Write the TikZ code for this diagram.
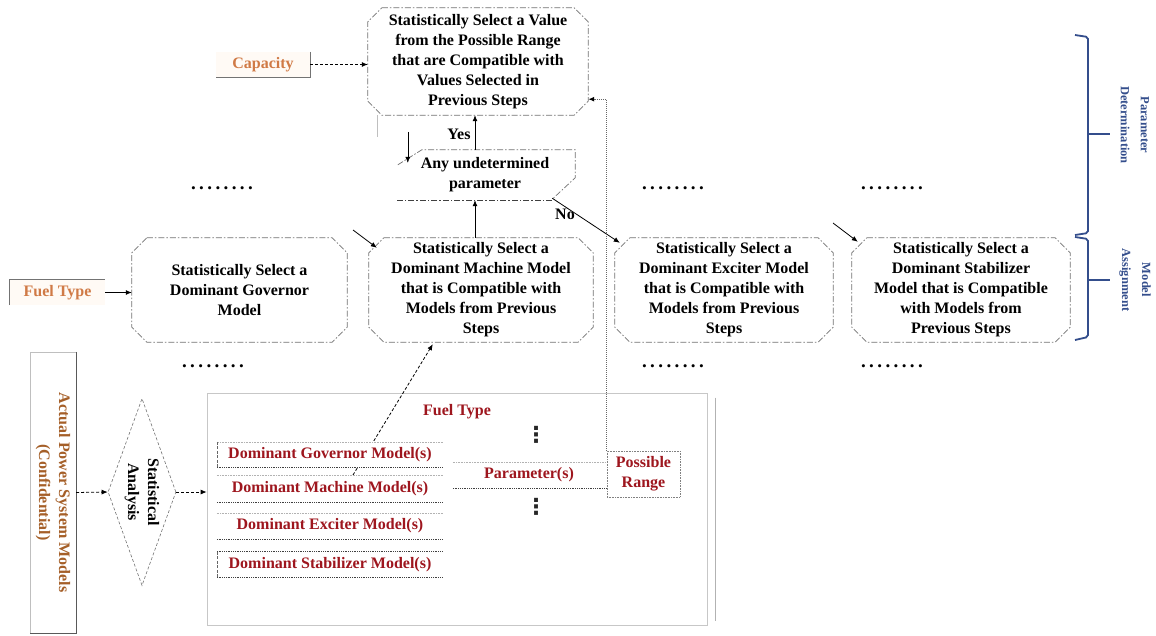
\documentclass[tikz,border=0pt]{standalone}
\usepackage{fontspec}
\setmainfont{Liberation Serif}
\newfontfamily\symfont{DejaVu Sans}
\usetikzlibrary{arrows.meta,calc,shapes.geometric}

\definecolor{orgT}{RGB}{208,122,70}
\definecolor{brnT}{RGB}{165,95,40}
\definecolor{redT}{RGB}{158,22,30}
\definecolor{bluB}{RGB}{52,78,140}

\newcommand\octoline[2]{%
 \draw[octline] ($(#1.north west)+(#2,0)$) -- ($(#1.north east)+(-#2,0)$) -- ($(#1.north east)+(0,#2)$) -- ($(#1.south east)+(0,-#2)$) -- ($(#1.south east)+(-#2,0)$) -- ($(#1.south west)+(#2,0)$) -- ($(#1.south west)+(0,-#2)$) -- ($(#1.north west)+(0,#2)$) -- cycle;}
\newcommand\dotrow{.\kern3.4pt.\kern3.4pt.\kern3.4pt.\kern3.4pt.\kern3.4pt.\kern3.4pt.\kern3.4pt.}

\tikzset{
  base/.style={font=\fontsize{16}{20}\selectfont\bfseries, align=center, inner sep=0pt},
  mbox/.style={base, minimum height=104pt},
  octline/.style={draw=black!55, line width=0.7pt, dash pattern=on 6pt off 2pt on 1.5pt off 2pt},
  arr/.style={-{Latex[length=6pt,width=5pt]}, line width=0.8pt},
  darr/.style={arr, dash pattern=on 3pt off 2pt},
  dotline/.style={draw=black!60, line width=1.3pt, dash pattern=on 1pt off 1pt},
  dotsty/.style={font=\fontsize{19}{19}\selectfont\bfseries, inner sep=0pt},
  vdotsty/.style={font=\symfont\bfseries\fontsize{22}{22}\selectfont, text=black!85, inner sep=0pt},
  rowbox/.style={base, text=redT, fill=white, minimum width=226pt},
  toprule/.style={draw=black!30, densely dotted, line width=0.6pt},
  botrule/.style={draw=black!75, densely dotted, line width=0.8pt},
  brc/.style={draw=bluB, line width=1.8pt, rounded corners=2pt},
  bluetxt/.style={font=\fontsize{12.5}{20}\selectfont\bfseries, text=bluB, align=center, inner sep=0pt, rotate=-90},
}

\begin{document}
\begin{tikzpicture}[x=1pt,y=-1pt]
\path[fill=white, use as bounding box] (0,0) rectangle (1156,635);

% ---------- parameter determination ----------
\node[base, minimum width=220pt, minimum height=107pt] (val) at (478,61.5)
  {Statistically Select a Value\\from the Possible Range\\that are Compatible with\\Values Selected in\\Previous Steps};
\octoline{val}{14}

\node[base, text=orgT, fill=orange!4, minimum width=94pt, minimum height=25pt] (cap) at (263,64.5) {Capacity};
\draw[black!55, line width=0.8pt] (cap.north east) -- (cap.south east) -- (cap.south west);
\draw[darr] (cap.east) -- (val.west |- cap.east);

\node[base, minimum width=180pt, minimum height=50pt] (dec) at (485,175) {Any undetermined\\parameter};
\draw[octline] ($(dec.north west)+(3,15)$) -- ($(dec.north west)+(27,0)$) -- (dec.north east) -- ($(dec.north east)+(0,28)$) -- ($(dec.south east)+(-23,-1)$);
\draw[octline, draw=black!75] ($(dec.south east)+(-23,0)$) -- (dec.south west);

\coordinate (yb) at ($(dec.north)+(-10,0)$);
\draw[arr] (yb) -- (yb |- val.south);
\node[base] (yes) at (459,134) {Yes};

\coordinate (dn0) at ($(dec.north west)+(13,-18)$);
\coordinate (dn1) at ($(dec.north west)+(13,13)$);
\draw[-{Latex[length=6pt,width=5pt]}, line width=0.5pt] (dn0) -- (dn1);
\coordinate (fl0) at ($(val.south west)+(9,0)$);
\coordinate (fl1) at ($(val.south west)+(9,22)$);
\draw[black!25, line width=0.5pt] (fl0) -- (fl1);

% ---------- model assignment ----------
\node[mbox, minimum width=215pt] (gov) at (239.5,290) {Statistically Select a\\Dominant Governor\\Model};
\node[mbox, minimum width=224pt] (mach) at (481,290) {Statistically Select a\\Dominant Machine Model\\that is Compatible with\\Models from Previous\\Steps};
\node[mbox, minimum width=218pt] (exc) at (724,290) {Statistically Select a\\Dominant Exciter Model\\that is Compatible with\\Models from Previous\\Steps};
\node[mbox, minimum width=218pt] (stab) at (961,290) {Statistically Select a\\Dominant Stabilizer\\Model that is Compatible\\with Models from\\Previous Steps};
\octoline{gov}{15}
\octoline{mach}{15}
\octoline{exc}{15}
\octoline{stab}{15}

\node[base, text=orgT, fill=orange!4, minimum width=95pt, minimum height=25pt] (ft) at (57.5,292.5) {Fuel Type};
\draw[black!55, line width=0.8pt] (ft.south west) -- (ft.north west) -- (ft.north east);
\draw[arr] (ft.east) -- (gov.west |- ft.east);

\draw[arr] (mach.north -| yb) -- (dec.south -| yb);
\draw[arr] ($(dec.south east)+(-23,-2)$) -- ($(exc.north west)+(5,5)$);
\node[base] (no) at (565,214) {No};

\coordinate (m0) at (353,230);
\draw[arr] (m0) -- ($(mach.north west)+(8,10)$);
\coordinate (s0) at (833,223);
\draw[arr] (s0) -- ($(stab.north west)+(6,4)$);

\node[dotsty] (d1) at (222,188) {\dotrow};
\node[dotsty] (d2) at (673,188) {\dotrow};
\node[dotsty] (d3) at (892,188) {\dotrow};
\node[dotsty] (d4) at (213,366) {\dotrow};
\node[dotsty] (d5) at (673,366) {\dotrow};
\node[dotsty] (d6) at (892,366) {\dotrow};

% ---------- brace ----------
\draw[brc] (1075,35) -- (1088,37) -- (1088,233) -- (1075,235);
\draw[brc] (1088,134) -- (1110,134);
\draw[brc] (1075,237) -- (1088,239) -- (1088,337) -- (1075,340);
\draw[brc] (1088,280) -- (1110,280);
\node[bluetxt] (pd) at (1135,125) {Parameter\\Determination};
\node[bluetxt] (ma) at (1135,280) {Model\\Assignment};

% ---------- statistical analysis ----------
\node[base, text=brnT, rotate=-90, minimum width=281pt, minimum height=46pt] (act) at (53,492.5)
  {Actual Power System Models\\(Confidential)};
\draw[black!25, line width=0.6pt] (act.north west) rectangle (act.south east);
\draw[black!65, line width=0.9pt] (act.north west) -- (act.north east) -- (act.south east);

\node[diamond, draw=black!55, dash pattern=on 3pt off 2pt, line width=0.6pt, minimum width=68pt, minimum height=187pt, inner sep=0pt] (sa) at (142,492) {};
\node[base, rotate=-90] (sat) at (sa.center) {Statistical\\Analysis};
\draw[darr] (act.north) -- (sa.west);

\node[draw=black!22, line width=0.7pt, minimum width=500pt, minimum height=232pt, inner sep=0pt] (frame) at (457,509) {};
\draw[black!30, line width=0.7pt] ($(frame.north east)+(8,5)$) -- ($(frame.south east)+(8,-4)$);
\draw[darr] (sa.east) -- (frame.west |- sa.east);

\coordinate (gt) at (353,475);
\draw[darr] (gt) -- ($(mach.south west)+(64,2)$);

\node[base, text=redT] (ftr) at (457,412) {Fuel Type};

\node[rowbox, minimum height=25pt] (rgov) at (330,454.5) {Dominant Governor Model(s)};
\node[rowbox, minimum height=27pt] (rmach) at (330,488.5) {Dominant Machine Model(s)};
\node[rowbox, minimum height=26pt] (rexc) at (330,526) {Dominant Exciter Model(s)};
\node[rowbox, minimum height=25pt] (rstab) at (330,564.5) {Dominant Stabilizer Model(s)};
\foreach \r in {rgov,rmach,rexc}{
  \draw[toprule] (\r.north west) -- (\r.north east);
  \draw[botrule] (\r.south west) -- (\r.south east);
}
\draw[botrule] (rstab.north west) -- (rstab.north east);
\draw[botrule] (rstab.south west) -- (rstab.south east);
\draw[black!60, dash pattern=on 3pt off 1.5pt, line width=0.6pt] (rgov.north west) -- (rgov.south west);
\draw[black!60, dash pattern=on 3pt off 1.5pt, line width=0.6pt] (rstab.north west) -- (rstab.south west);

\node[vdotsty] (vd1) at (536,435) {⋮};
\node[vdotsty] (vd2) at (536,507) {⋮};

\node[base, text=redT, minimum width=152pt, minimum height=26pt] (par) at (529,475) {Parameter(s)};
\node[base, text=redT, draw=black!50, densely dotted, line width=0.6pt, minimum width=73pt, minimum height=46pt] (pr) at (643.5,474) {Possible\\Range};
\draw[toprule] (par.north west) -- (par.north east);
\draw[botrule] (par.south west) -- (par.south -| pr.west);

\coordinate (pt) at ($(val.south east)+(0,-16)$);
\draw[dotline, -{Latex[length=6pt,width=5pt,color=black]}] (pr.north west) |- (pt);
\end{tikzpicture}
\end{document}
